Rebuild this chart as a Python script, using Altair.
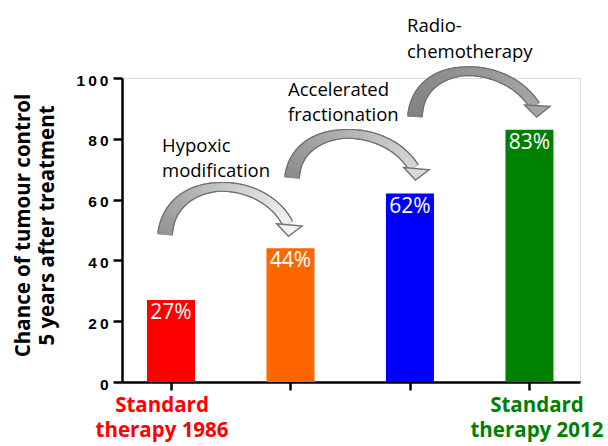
import altair as alt
import pandas as pd
import numpy as np

# ---- data ----
categories = [1, 2, 3, 4]
values = [27, 44, 62, 83]
bar_colors = ["#ff0000", "#ff6600", "#0000ff", "#008000"]
bar_labels = ["27%", "44%", "62%", "83%"]
y_ticks = [0, 20, 40, 60, 80, 100]

cat_label_text = ["Standard\ntherapy 1986", "Standard\ntherapy 2012"]
cat_label_x = [0.925, 4.063]
cat_label_y = [-9.9, -9.9]
cat_label_colors = ["#ff0000", "#008000"]

step_labels = ["Hypoxic\nmodification", "Accelerated\nfractionation", "Radio-\nchemotherapy"]
step_label_x = [0.925, 1.979, 2.975]
step_label_y = [75.7, 94.1, 115.1]

# curved arrows: cubic Bezier control points in data units
arrow_x = [[0.950, 0.992, 1.762, 1.979], [2.013, 2.046, 2.791, 3.033], [3.042, 3.067, 3.795, 4.046]]
arrow_y = [[48.4, 68.8, 68.8, 52.0], [67.1, 85.5, 86.2, 70.4], [87.2, 106.6, 106.6, 90.8]]
arrow_width = [13, 7, 9]          # band width at tail, middle, end (px)
head_x = [1.987, 3.050, 4.063]
head_y = [49.8, 68.3, 89.0]
head_angle = [5, 5, 3]
arrow_fill_from = ["#949494", "#8c8c8c", "#828282"]
arrow_fill_to = ["#f2f2f2", "#d6d6d6", "#a6a6a6"]
head_fill = ["#f2f2f2", "#d9d9d9", "#a6a6a6"]
outline_color = "#727272"

X_DOMAIN = [0.59, 4.423]
Y_DOMAIN = [0, 100]
xs = alt.Scale(domain=X_DOMAIN, nice=False, zero=False, padding=0)
ys = alt.Scale(domain=Y_DOMAIN, nice=False, padding=0)

FONT = "Open Sans"

bars_df = pd.DataFrame({"x": categories, "y": values, "c": bar_colors, "lab": bar_labels})

bars = alt.Chart(bars_df).mark_bar(size=48).encode(
    x=alt.X("x:Q", scale=xs, axis=alt.Axis(values=categories, labels=False, title=None, grid=False,
                                            tickSize=8, tickWidth=2.5, tickColor="black",
                                            domainColor="black", domainWidth=2.5)),
    y=alt.Y("y:Q", scale=ys, axis=alt.Axis(values=y_ticks, grid=False, format="d",
                                            labelExpr="join(split(datum.label, ''), '\u2009')",
                                            labelFont="Liberation Sans", labelFontWeight="bold",
                                            labelFontSize=15.5, labelColor="black", labelPadding=5,
                                            labelOffset=2,
                                            tickSize=9, tickWidth=2.5, tickColor="black",
                                            domainColor="black", domainWidth=2.5,
                                            title=["Chance of tumour control", "5 years after treatment"],
                                            titleFont=FONT, titleFontWeight="bold", titleFontSize=20.5,
                                            titleColor="black", titleAngle=270, titleAlign="center",
                                            titleBaseline="alphabetic", titleLineHeight=24,
                                            titleX=-93, titleY=147)),
    color=alt.Color("c:N", scale=None),
)

bar_text = alt.Chart(bars_df).mark_text(font=FONT, fontSize=21, color="white", baseline="alphabetic",
                                        align="center", dy=19).encode(
    x=alt.X("x:Q", scale=xs), y=alt.Y("y:Q", scale=ys), text="lab:N")

cat_df = pd.DataFrame({"x": cat_label_x, "y": cat_label_y, "t": cat_label_text, "c": cat_label_colors})
cat_text = alt.Chart(cat_df).mark_text(font=FONT, fontSize=20.5, fontWeight="bold", lineBreak="\n",
                                       lineHeight=25, align="center", baseline="alphabetic").encode(
    x=alt.X("x:Q", scale=xs), y=alt.Y("y:Q", scale=ys), text="t:N", color=alt.Color("c:N", scale=None))

step_df = pd.DataFrame({"x": step_label_x, "y": step_label_y, "t": step_labels})
step_text = alt.Chart(step_df).mark_text(font=FONT, fontSize=18.5, color="black", lineBreak="\n",
                                         lineHeight=25.5, align="left", baseline="alphabetic").encode(
    x=alt.X("x:Q", scale=xs), y=alt.Y("y:Q", scale=ys), text="t:N")


# arrow bodies: a band drawn as short overlapping pieces (tapering width, shaded grey)
def hex_to_rgb(h):
    return np.array([int(h[1:3], 16), int(h[3:5], 16), int(h[5:7], 16)], dtype=float)


def rgb_to_hex(c):
    return "#%02x%02x%02x" % tuple(int(round(v)) for v in c)


N = 90
tt = np.linspace(0, 1, N + 1)
outline_rows, fill_rows = [], []
for i in range(3):
    px, py = arrow_x[i], arrow_y[i]
    bx = (1 - tt) ** 3 * px[0] + 3 * (1 - tt) ** 2 * tt * px[1] + 3 * (1 - tt) * tt ** 2 * px[2] + tt ** 3 * px[3]
    by = (1 - tt) ** 3 * py[0] + 3 * (1 - tt) ** 2 * tt * py[1] + 3 * (1 - tt) * tt ** 2 * py[2] + tt ** 3 * py[3]
    w = np.interp(tt, [0, 0.5, 1], arrow_width)
    c0, c1 = hex_to_rgb(arrow_fill_from[i]), hex_to_rgb(arrow_fill_to[i])
    for s in range(N - 1):
        m = s + 1
        col = rgb_to_hex(c0 + (c1 - c0) * tt[m])
        for k in (s, s + 1, s + 2):
            outline_rows.append({"g": f"{i}-{s}", "k": k, "x": bx[k], "y": by[k], "w": w[m] + 2.8, "c": outline_color})
            fill_rows.append({"g": f"{i}-{s}", "k": k, "x": bx[k], "y": by[k], "w": w[m], "c": col})


def band(rows):
    return alt.Chart(pd.DataFrame(rows)).mark_line(strokeCap="butt", strokeJoin="round").encode(
        x=alt.X("x:Q", scale=xs), y=alt.Y("y:Q", scale=ys),
        detail="g:N", order="k:Q",
        size=alt.Size("w:Q", scale=None), color=alt.Color("c:N", scale=None))


outline = band(outline_rows)
body = band(fill_rows)

head_df = pd.DataFrame({"x": head_x, "y": head_y, "a": head_angle, "f": head_fill})
heads = alt.Chart(head_df).mark_point(shape="M-1,-0.45L1,-0.45L0,0.45Z", size=650, filled=True,
                                      stroke=outline_color, strokeWidth=1.4, opacity=1).encode(
    x=alt.X("x:Q", scale=xs), y=alt.Y("y:Q", scale=ys),
    angle=alt.Angle("a:Q", scale=None), fill=alt.Fill("f:N", scale=None))

chart = alt.layer(bars, bar_text, cat_text, step_text, outline, body, heads).properties(
    width=458, height=304,
    autosize=alt.AutoSizeParams(type="none"),
    padding={"left": 122, "top": 78, "right": 28, "bottom": 64},
).configure_view(strokeWidth=0).configure(background="white")

chart.save("out.html", embed_options={"renderer": "svg", "actions": False})
